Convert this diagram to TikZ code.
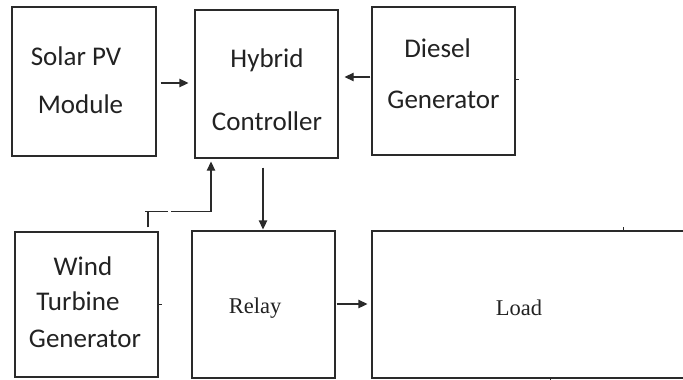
\documentclass[tikz,border=0pt]{standalone}
\usepackage{fontspec}
\newfontfamily\carlito{Carlito}
\newfontfamily\tnr{Liberation Serif}
\usetikzlibrary{arrows.meta}
\definecolor{ink}{HTML}{222222}
\definecolor{linec}{HTML}{2A2A2A}
\begin{document}
\begin{tikzpicture}[x=1pt,y=-1pt,
  blk/.style={draw=linec,line width=1.3pt,rectangle,inner sep=0pt},
  sanslbl/.style={font=\carlito\fontsize{27}{30}\selectfont,text=ink,inner sep=0pt,anchor=base},
  seriflbl/.style={font=\tnr\fontsize{22.5}{26}\selectfont,text=ink,inner sep=0pt,anchor=base},
  wire/.style={draw=linec,line width=1.3pt},
  arr/.style={wire,-{Triangle[length=9pt,width=8.5pt]}},
  tick/.style={draw=linec,line width=1pt}]
\useasboundingbox (0,0) rectangle (683,380);
\fill[white] (0,0) rectangle (683,380);
% boxes
\node[blk,minimum width=144pt,minimum height=149pt] (solar) at (84,81.5) {};
\node[blk,minimum width=143pt,minimum height=148pt] (hybrid) at (266.5,84) {};
\node[blk,minimum width=143pt,minimum height=148pt] (diesel) at (443.5,81) {};
\node[blk,minimum width=143pt,minimum height=145pt] (wind) at (86.5,304.5) {};
\node[blk,minimum width=143pt,minimum height=147pt] (relay) at (263.5,304.5) {};
\node[blk,minimum width=315pt,minimum height=147pt] (load) at (529.5,304.5) {};
% texts
\node[sanslbl] (t-solar1) at (76,65) {Solar PV};
\node[sanslbl] (t-solar2) at (80.5,113) {Module};
\node[sanslbl] (t-hyb1) at (267,67) {Hybrid};
\node[sanslbl] (t-hyb2) at (267,130) {Controller};
\node[sanslbl] (t-dsl1) at (437.5,57) {Diesel};
\node[sanslbl] (t-dsl2) at (443.5,108) {Generator};
\node[sanslbl] (t-wind1) at (83,275) {Wind};
\node[sanslbl] (t-wind2) at (78,310) {Turbine};
\node[sanslbl] (t-wind3) at (85,347) {Generator};
\node[seriflbl] (t-relay) at (255,313) {Relay};
\node[seriflbl] (t-load) at (519,315) {Load};
% connectors
\draw[arr] ([xshift=4pt,yshift=-1.5pt]solar.east) -- ([xshift=-6pt,yshift=1pt]hybrid.west);
\draw[arr] ([xshift=-1pt,yshift=4pt]diesel.west) -- ([xshift=6pt,yshift=7pt]hybrid.east);
\draw[arr] ([xshift=-3.5pt,yshift=-9pt]hybrid.south) -- ([xshift=-0.5pt,yshift=1pt]relay.north);
\draw[arr] ([xshift=1pt,yshift=0.5pt]relay.east) -- ([xshift=-4pt,yshift=0.5pt]load.west);
\draw[wire] ([xshift=61.5pt,yshift=4pt]wind.north) -- ++(0,-16) coordinate (wj);
\draw[wire] ([xshift=-3pt]wj) -- ([xshift=20pt]wj);
\draw[arr] ([xshift=23pt]wj) -| ([xshift=-55.5pt,yshift=-3pt]hybrid.south);
% small ticks
\draw[tick] ([yshift=2pt]diesel.east) -- ++(3,0);
\draw[tick] (wind.east) -- ++(3,0);
\draw[tick] ([xshift=93.5pt]load.north) -- ++(0,-3);
\draw[tick] ([xshift=20.5pt]load.south) -- ++(0,3);
\end{tikzpicture}
\end{document}
